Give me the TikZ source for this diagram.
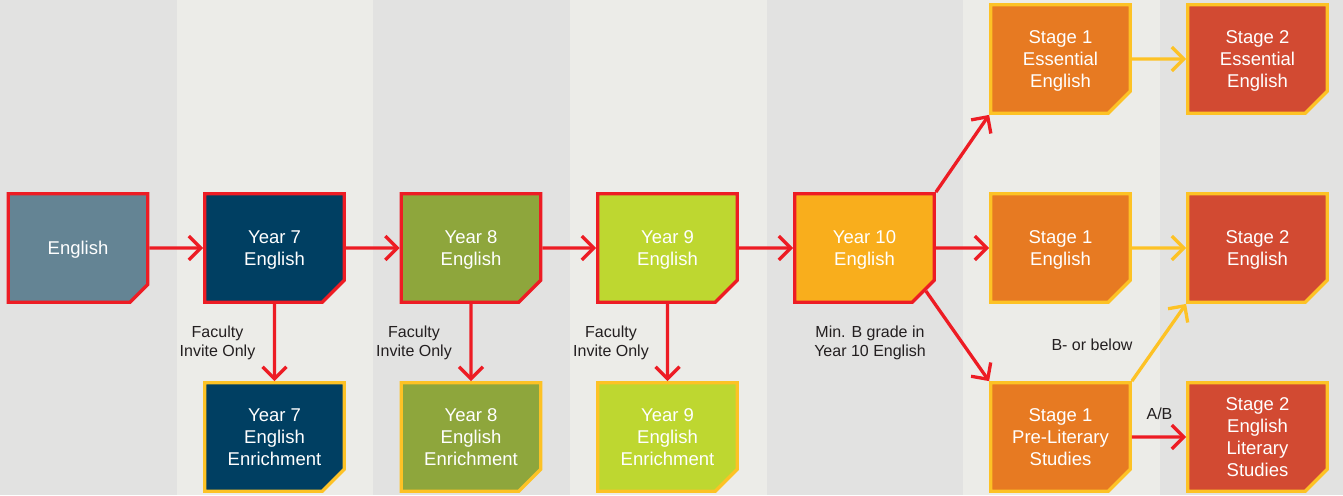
\documentclass[tikz,border=0pt]{standalone}
\usepackage{fontspec}
\setmainfont{Liberation Sans}
\usetikzlibrary{shapes.misc,arrows.meta}
\definecolor{stripegray}{HTML}{E2E2E1}
\definecolor{stripelight}{HTML}{ECECE8}
\definecolor{arrowred}{HTML}{ED1C24}
\definecolor{gold}{HTML}{FDC225}
\definecolor{slate}{HTML}{648494}
\definecolor{navy}{HTML}{003F62}
\definecolor{olive}{HTML}{8EA63C}
\definecolor{lime}{HTML}{BED730}
\definecolor{amber}{HTML}{F9AE1C}
\definecolor{stageone}{HTML}{E77A22}
\definecolor{stagetwo}{HTML}{D24A32}
\definecolor{notegray}{HTML}{231F20}

\begin{document}
\begin{tikzpicture}[x=1pt,y=-1pt,
    box/.style={chamfered rectangle, chamfered rectangle corners=south east,
      chamfered rectangle xsep=11pt, chamfered rectangle ysep=11pt,
      minimum width=139.5pt, minimum height=108.5pt, inner sep=0pt,
      line width=3.3pt, text=white, align=center, text depth=0pt,
      font=\fontsize{18.5}{22.2}\selectfont},
    redbox/.style={box, draw=arrowred},
    goldbox/.style={box, draw=gold},
    flow/.style={line width=3.3pt, draw=arrowred, -{Straight Barb[length=12pt,width=24pt]}},
    goldflow/.style={flow, draw=gold},
    note/.style={text=notegray, align=center, font=\fontsize{16}{19}\selectfont}]

    \useasboundingbox (0,0) rectangle (1343,495);
    \fill[stripegray] (0,0) rectangle (1343,495);
    \foreach \x in {176.5, 570, 963}
    \fill[stripelight] (\x,0) rectangle +(196.5,495);

    \node[redbox, fill=slate] (eng) at (78,248) {English};
    \node[redbox, fill=navy] (y7) at (274.5,248) {Year 7\\English};
    \node[redbox, fill=olive] (y8) at (471,248) {Year 8\\English};
    \node[redbox, fill=lime] (y9) at (667.5,248) {Year 9\\English};
    \node[redbox, fill=amber] (y10) at (864.5,248) {Year 10\\English};

    \node[goldbox, fill=navy] (y7x) at (274.5,437) {Year 7\\English\\Enrichment};
    \node[goldbox, fill=olive] (y8x) at (471,437) {Year 8\\English\\Enrichment};
    \node[goldbox, fill=lime] (y9x) at (667.5,437) {Year 9\\English\\Enrichment};

    \node[goldbox, fill=stageone] (s1e) at (1060.5,59) {Stage 1\\Essential\\English};
    \node[goldbox, fill=stageone] (s1) at (1060.5,248) {Stage 1\\English};
    \node[goldbox, fill=stageone] (s1p) at (1060.5,437) {Stage 1\\Pre-Literary\\Studies};
    \node[goldbox, fill=stagetwo] (s2e) at (1257.5,59) {Stage 2\\Essential\\English};
    \node[goldbox, fill=stagetwo] (s2) at (1257.5,248) {Stage 2\\English};
    \node[goldbox, fill=stagetwo] (s2l) at (1257.5,437) {Stage 2\\English\\Literary\\Studies};

    \draw[flow] (eng) -- (y7);
    \draw[flow] (y7) -- (y8);
    \draw[flow] (y8) -- (y9);
    \draw[flow] (y9) -- (y10);
    \draw[flow] (y10) -- (s1);
    \draw[flow] (y10.north east) -- (s1e.south west);
    \draw[flow] (y10.-35) -- (s1p.north west);
    \draw[flow] (y7) -- (y7x);
    \draw[flow] (y8) -- (y8x);
    \draw[flow] (y9) -- (y9x);
    \draw[goldflow] (s1e) -- (s2e);
    \draw[goldflow] (s1) -- (s2);
    \draw[goldflow] (s1p.north east) -- (s2.south west);
    \draw[flow] (s1p) -- (s2l);

    \node[note] (inv7) at (217.5,342.5) {Faculty\\Invite Only};
    \node[note] (inv8) at (414,342.5) {Faculty\\Invite Only};
    \node[note] (inv9) at (611,342.5) {Faculty\\Invite Only};
    \node[note] (minb) at (870,343) {Min. B grade in\\Year 10 English};
    \node[note] (below) at (1092,345) {B- or below};
    \node[note] (ab) at (1159.5,414) {A/B};
\end{tikzpicture}
\end{document}
